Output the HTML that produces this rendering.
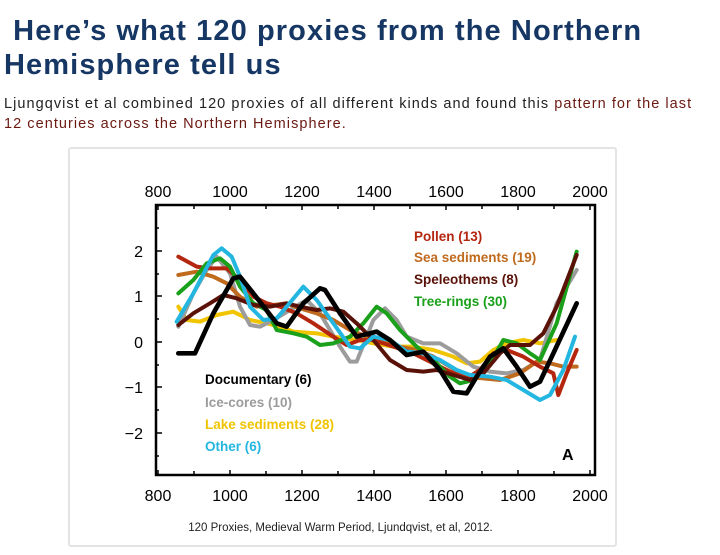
<!DOCTYPE html>
<html><head><meta charset="utf-8"><style>
body{margin:0;width:720px;height:555px;background:#fff;font-family:"Liberation Sans",sans-serif;position:relative;overflow:hidden}
h1{position:absolute;left:4px;top:14px;margin:0;font-size:29px;line-height:34px;color:#163764;font-weight:bold;letter-spacing:1.1px;white-space:nowrap}
p{position:absolute;left:4px;top:94px;margin:0;font-size:14.5px;line-height:20px;color:#222;white-space:nowrap;letter-spacing:1.05px}
p span{color:#6b1a12}
.card{position:absolute;left:68px;top:147px;width:545px;height:396px;border:2px solid #e4e4e4;border-radius:3px;background:#fff}
.cap{position:absolute;left:68px;top:522px;width:545px;text-align:center;font-size:11.5px;color:#222}
svg{position:absolute;left:0;top:0}
</style></head><body>
<h1>&nbsp;Here’s what 120 proxies from the Northern<br>Hemisphere tell us</h1>
<p>Ljungqvist et al combined 120 proxies of all different kinds and found this <span>pattern for the last<br>12 centuries across the Northern Hemisphere.</span></p>
<div class="card"></div>
<div class="cap">120 Proxies, Medieval Warm Period, Ljundqvist, et al, 2012.</div>
<svg width="720" height="555" viewBox="0 0 720 555">
<g font-family="Liberation Sans,sans-serif" font-size="16" fill="#000" text-anchor="middle">
<text x="158" y="197">800</text><text x="230" y="197">1000</text><text x="302" y="197">1200</text><text x="374" y="197">1400</text><text x="446" y="197">1600</text><text x="518" y="197">1800</text><text x="590" y="197">2000</text>
<text x="158" y="501">800</text><text x="230" y="501">1000</text><text x="302" y="501">1200</text><text x="374" y="501">1400</text><text x="446" y="501">1600</text><text x="518" y="501">1800</text><text x="590" y="501">2000</text>
<g text-anchor="end"><text x="143" y="257">2</text><text x="143" y="302">1</text><text x="143" y="348">0</text><text x="143" y="393">−1</text><text x="143" y="439">−2</text></g>
</g>
<rect x="156" y="205" width="439" height="270" fill="none" stroke="#000" stroke-width="2.5"/>
<g stroke="#000" stroke-width="1.5">
<path d="M158 205v5M194 205v4M230 205v5M266 205v4M302 205v5M338 205v4M374 205v5M410 205v4M446 205v5M482 205v4M518 205v5M554 205v4M590 205v5"/>
<path d="M158 475v-5M194 475v-4M230 475v-5M266 475v-4M302 475v-5M338 475v-4M374 475v-5M410 475v-4M446 475v-5M482 475v-4M518 475v-5M554 475v-4M590 475v-5"/>
<path d="M156 251h6M156 296h6M156 342h6M156 387h6M156 433h6M156 228h3M156 274h3M156 319h3M156 365h3M156 410h3M156 456h3"/>
</g>
<g transform="translate(140,180) scale(0.33333)" fill="none" stroke-width="12" stroke-linejoin="round" stroke-linecap="round">
<polyline stroke="#f0c400" points="115,380 140,420 180,425 230,405 280,395 330,420 380,430 420,440 460,455 530,460 580,470 650,480 700,490 760,500 820,500 880,510 940,530 980,550 1020,545 1060,510 1100,490 1150,480 1200,490 1250,480"/>
<polyline stroke="#9c9c9c" points="115,440 160,340 200,270 230,230 270,280 300,380 330,435 360,440 400,420 450,390 500,360 540,400 600,500 630,545 650,545 700,420 735,385 770,420 800,470 850,490 900,490 950,520 1000,560 1050,575 1100,580 1150,570 1200,540 1250,370 1310,270"/>
<polyline stroke="#c06a1e" points="115,285 170,275 220,290 260,310 300,350 350,380 400,375 440,370 480,385 530,400 580,420 630,450 680,470 730,480 780,500 830,510 880,530 930,560 980,590 1030,595 1080,600 1140,580 1190,545 1230,550 1270,560 1310,560"/>
<polyline stroke="#b5260e" points="115,230 170,260 210,265 260,265 300,300 340,350 380,370 420,380 470,400 520,430 580,470 620,495 660,480 700,480 760,500 820,520 880,550 930,575 980,595 1020,570 1060,520 1100,510 1150,530 1200,560 1240,580 1255,645 1280,580 1310,510"/>
<polyline stroke="#1aa01a" points="115,340 160,300 200,250 240,235 270,260 300,320 340,370 380,390 410,450 460,460 500,470 540,495 580,490 630,470 670,430 710,380 740,400 780,450 830,500 880,540 930,590 960,610 1000,600 1050,550 1090,480 1130,490 1170,520 1200,540 1250,430 1310,215"/>
<polyline stroke="#5a1208" points="115,435 160,400 210,370 250,345 290,355 340,375 390,380 440,370 480,380 530,390 570,385 610,395 650,430 700,480 750,540 800,570 850,575 890,570 940,585 990,600 1030,580 1080,520 1110,495 1170,495 1210,460 1250,380 1310,225"/>
<polyline stroke="#22b6e0" points="110,425 160,340 220,225 245,205 275,230 300,290 330,380 370,420 410,415 440,380 490,320 530,360 580,430 630,500 660,505 700,470 750,480 800,515 850,520 900,540 950,570 990,585 1050,590 1100,600 1150,630 1200,660 1230,645 1270,570 1305,470"/>
<polyline stroke="#000" stroke-width="14" points="115,520 165,520 220,400 280,295 300,290 340,340 410,430 440,440 490,370 540,325 555,330 600,400 650,470 710,455 750,480 800,525 850,515 900,570 940,635 980,640 1010,590 1050,530 1090,505 1130,560 1170,620 1200,605 1240,520 1310,370"/>
</g>
<g font-family="Liberation Sans,sans-serif" font-size="13.5" font-weight="bold">
<text x="414" y="241" fill="#b5260e">Pollen (13)</text>
<text x="414" y="262" fill="#c06a1e">Sea sediments (19)</text>
<text x="414" y="284" fill="#5a1208">Speleothems (8)</text>
<text x="414" y="306" fill="#1aa01a">Tree-rings (30)</text>
<text x="205" y="384" fill="#000">Documentary (6)</text>
<text x="205" y="407" fill="#9c9c9c">Ice-cores (10)</text>
<text x="205" y="429" fill="#f0c400">Lake sediments (28)</text>
<text x="205" y="451" fill="#22b6e0">Other (6)</text>
<text x="562" y="460" fill="#000" font-size="16">A</text>
</g>
</svg>
</body></html>
